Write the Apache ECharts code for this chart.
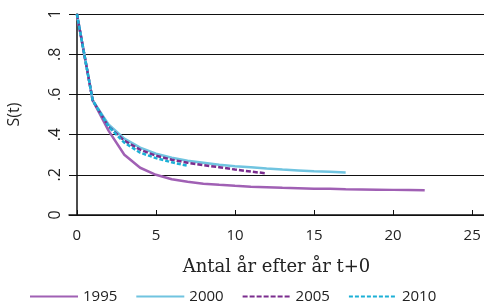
<!DOCTYPE html>
<html>
<head>
<meta charset="utf-8">
<script src="https://cdn.jsdelivr.net/npm/echarts@6/dist/echarts.min.js"></script>
<style>
  html, body { margin: 0; padding: 0; background: #fff; }
  #chart { width: 484px; height: 307px; }
</style>
</head>
<body>
<div id="chart"></div>
<script>
// survival S(t) per cohort, index = years after t+0
const years = ['1995', '2000', '2005', '2010'];
const s1995 = [1, 0.57, 0.42, 0.30, 0.235, 0.20, 0.178, 0.165, 0.156, 0.15, 0.145, 0.141, 0.138, 0.135, 0.133, 0.131, 0.13, 0.128, 0.127, 0.126, 0.125, 0.124, 0.123];
const s2000 = [1, 0.57, 0.45, 0.38, 0.335, 0.305, 0.285, 0.27, 0.26, 0.25, 0.243, 0.237, 0.231, 0.226, 0.222, 0.218, 0.215, 0.212];
const s2005 = [1, 0.57, 0.44, 0.37, 0.325, 0.295, 0.275, 0.26, 0.248, 0.238, 0.226, 0.216, 0.207];
const s2010 = [1, 0.57, 0.44, 0.36, 0.31, 0.283, 0.262, 0.245];
const xTicks = [0, 5, 10, 15, 20, 25];

const colors = ['#a060b4', '#70c4e0', '#7b2d8e', '#1cb0d6'];
const dashes = ['solid', 'solid', [5, 2], [4, 2]];
const seriesData = [s1995, s2000, s2005, s2010];

const yLabel = v => {
  if (v === 0) return '0';
  if (v === 1) return '1';
  return String(v).replace(/^0/, '');
};

const chart = echarts.init(document.getElementById('chart'), null, { renderer: 'canvas' });

chart.setOption({
  animation: false,
  backgroundColor: '#fff',
  textStyle: { fontFamily: 'Open Sans' },
  grid: { left: 69, right: 0, top: 14, bottom: 92, containLabel: false, outerBoundsMode: 'none' },
  xAxis: {
    type: 'value',
    min: -0.5,
    max: 25.75,
    interval: 5,
    name: 'Antal år efter år t+0',
    nameLocation: 'middle',
    nameGap: 43,
    nameTextStyle: { fontFamily: 'DejaVu Serif', fontSize: 18, color: '#222' },
    axisLine: { show: true, lineStyle: { color: '#111', width: 1.5 } },
    axisTick: { show: true, inside: true, length: 5, lineStyle: { color: '#111' },
      customValues: xTicks },
    axisLabel: { color: '#222', fontSize: 15, margin: 13, customValues: xTicks },
    splitLine: { show: false }
  },
  yAxis: {
    type: 'value',
    min: 0,
    max: 1,
    interval: 0.2,
    name: 'S(t)',
    nameLocation: 'middle',
    nameGap: 47,
    nameRotate: 90,
    nameTextStyle: { fontSize: 16, color: '#222' },
    axisLine: { show: true, lineStyle: { color: '#111', width: 1.5 } },
    axisTick: { show: true, length: 4, lineStyle: { color: '#111' } },
    axisLabel: { color: '#222', fontSize: 16, rotate: 90, margin: 14, formatter: yLabel,
      verticalAlign: 'middle', align: 'center' },
    splitLine: { show: true, lineStyle: { color: '#111', width: 1.2 } }
  },
  legend: {
    bottom: -2,
    left: 24,
    itemWidth: 48,
    itemHeight: 10,
    itemGap: 18,
    textStyle: { fontSize: 15, color: '#222' },
    itemStyle: { opacity: 0 },
    data: years
  },
  series: years.map((y, i) => ({
    name: y,
    type: 'line',
    symbol: 'none',
    smooth: false,
    z: 2 + i,
    data: seriesData[i].map((v, t) => [t, v]),
    lineStyle: { color: colors[i], width: 2.5, type: dashes[i] },
    itemStyle: { color: colors[i] }
  }))
});
</script>
</body>
</html>
